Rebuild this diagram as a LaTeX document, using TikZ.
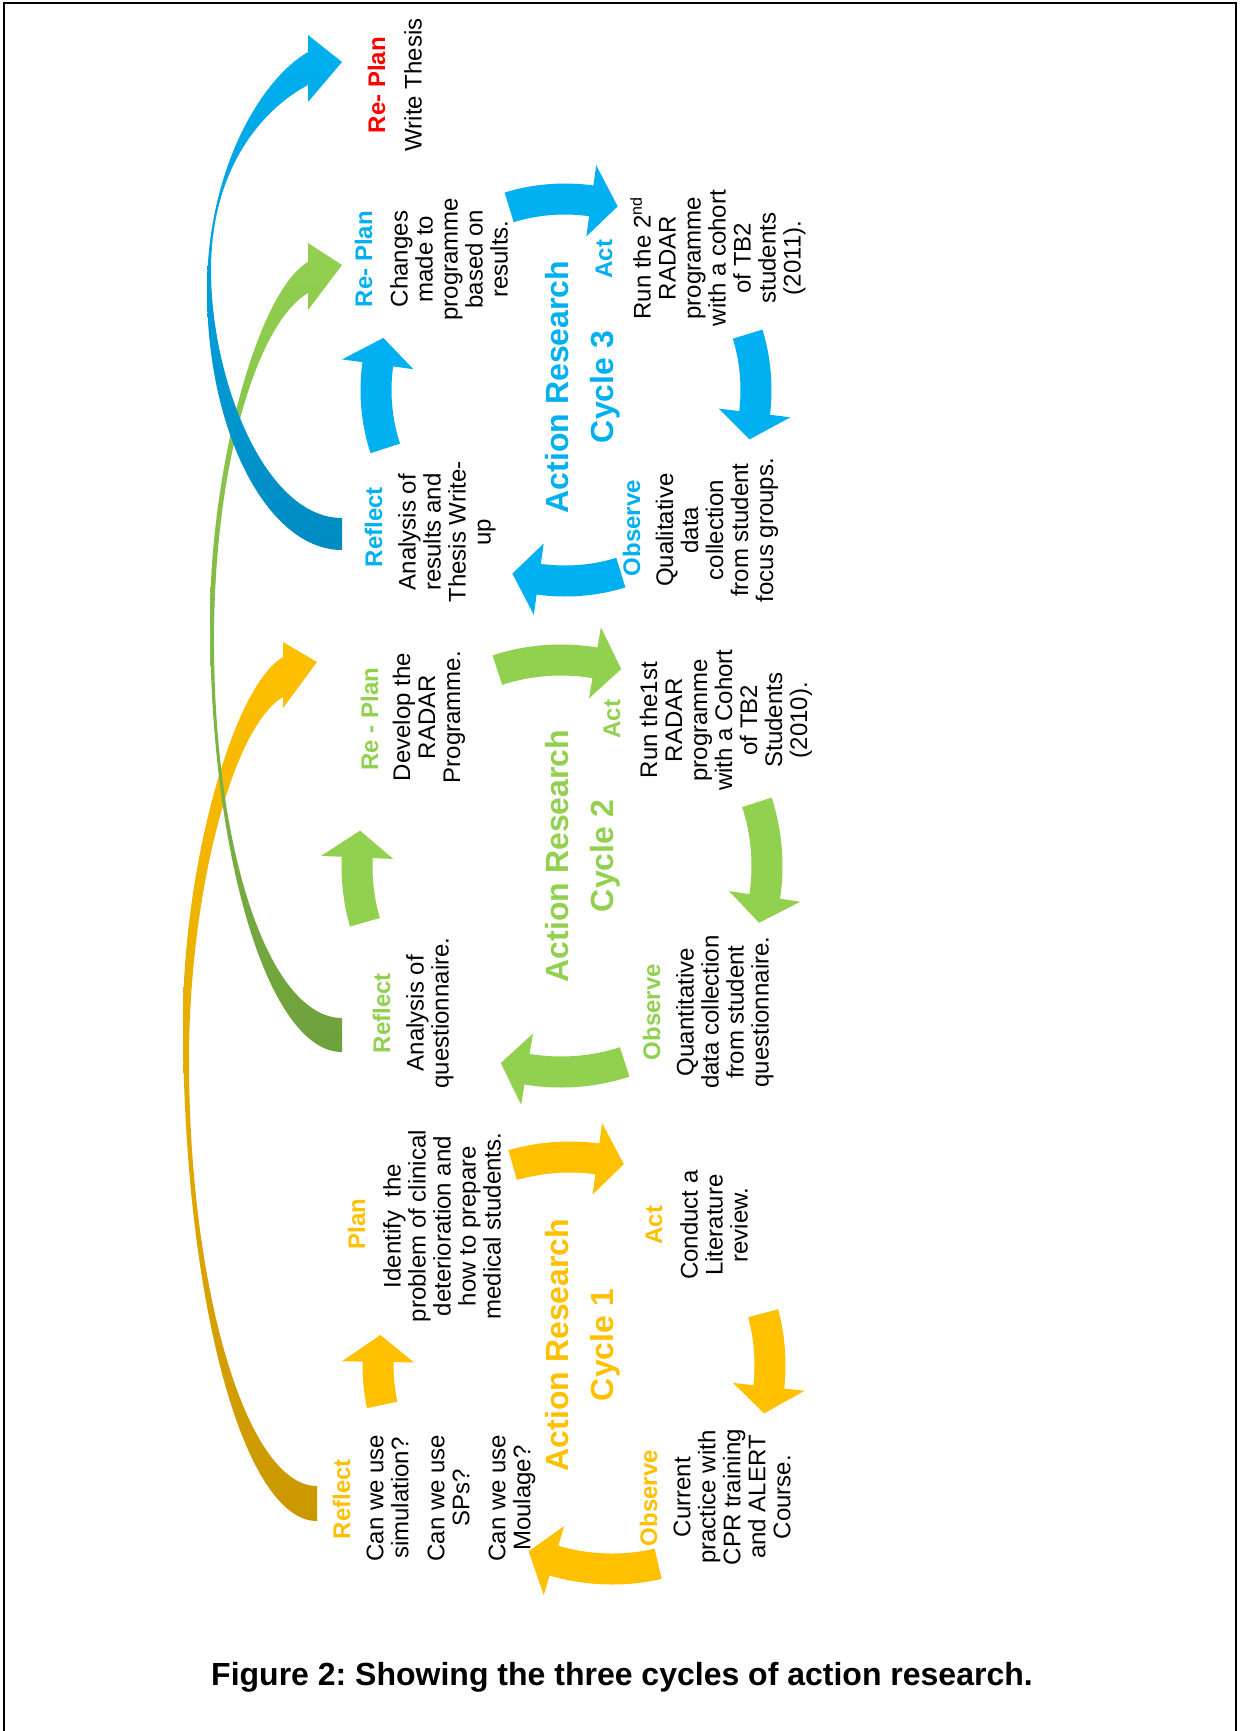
\documentclass[tikz,border=0pt]{standalone}
\usepackage{fontspec}
\setmainfont{Liberation Sans}
\usetikzlibrary{calc}
\frenchspacing

\definecolor{ybright}{HTML}{FFC000}
\definecolor{ydark}{HTML}{C99700}
\definecolor{gbright}{HTML}{92D050}
\definecolor{gdark}{HTML}{6FA13C}
\definecolor{bbright}{HTML}{00B0F0}
\definecolor{bdark}{HTML}{008BC2}
\definecolor{redlbl}{HTML}{FF0000}

% curved block arrow around a cycle centre:
% #1,#2 centre, #3 radius, #4 start angle, #5 end angle (tip), #6 colour
\newcommand{\cyclearrow}[6]{%
  \pgfmathsetmacro{\caH}{#5-27/(#3)*57.29578}%
  \pgfmathsetmacro{\caRo}{#3+15.5}%
  \pgfmathsetmacro{\caRi}{#3-15.5}%
  \pgfmathsetmacro{\caHo}{#3+36}%
  \pgfmathsetmacro{\caHi}{#3-36}%
  \fill[#6] ($(#1,#2)+(#4:\caRo)$) arc[start angle=#4, end angle=\caH, radius=\caRo]
    -- ($(#1,#2)+(\caH:\caHo)$) -- ($(#1,#2)+(#5:#3)$) -- ($(#1,#2)+(\caH:\caHi)$)
    -- ($(#1,#2)+(\caH:\caRi)$) arc[start angle=\caH, end angle=#4, radius=\caRi] -- cycle;
}

\tikzset{
  txt/.style={rotate=90, align=center, inner sep=0pt, font=\fontsize{12}{12.5}\selectfont},
  lbl/.style={rotate=90, inner sep=0pt, anchor=base, font=\fontsize{12}{12.5}\selectfont\bfseries},
  ttl/.style={rotate=90, inner sep=0pt, anchor=base, font=\fontsize{16}{19}\selectfont\bfseries},
  sweep/.style={shade, middle color=#1bright, top color=#1bright, bottom color=#1dark},
}

\begin{document}
\begin{tikzpicture}[x=0.5pt,y=-0.5pt]
\useasboundingbox (0,0) rectangle (1240,1731);
\fill[white] (0,0) rectangle (1240,1731);

% frame
\draw[line width=1pt] (4,1731) -- (4,3) -- (1236,3) -- (1236,1731);

% ---- cycle 3 (blue)
\cyclearrow{565}{390}{191}{253}{286}{bbright}
\cyclearrow{565}{390}{191}{-17}{15}{bbright}
\cyclearrow{565}{390}{191}{73}{106}{bbright}
\cyclearrow{565}{390}{189}{162}{196}{bbright}

% ---- cycle 2 (green)
\cyclearrow{561}{866}{206}{252}{287}{gbright}
\cyclearrow{561}{866}{206}{-18}{16}{gbright}
\cyclearrow{561}{866}{206}{72}{107}{gbright}
\cyclearrow{561}{866}{204}{164}{190}{gbright}

% ---- cycle 1 (yellow)
\cyclearrow{570}{1365}{208}{254}{285}{ybright}
\cyclearrow{570}{1365}{200}{-15}{14}{ybright}
\cyclearrow{612}{1364}{205}{77}{114}{ybright}
\cyclearrow{570}{1365}{192}{168}{189}{ybright}

% ---- sweeping arrows linking the cycles
\path[sweep=y]
  (317,1521) .. controls (243,1521) and (183,1297) .. (183,1020)
  .. controls (183,870) and (232,687) .. (283,657)
  -- (283,642) -- (317,662) -- (283,708) -- (283,697)
  .. controls (232,727) and (189,895) .. (189,1060)
  .. controls (189,1290) and (247,1486) .. (317,1486) -- cycle;

\path[sweep=g]
  (342,1052) .. controls (269,1052) and (210,858) .. (210,620)
  .. controls (210,470) and (257,292) .. (308,262)
  -- (308,243) -- (342,265) -- (308,310) -- (308,293)
  .. controls (257,323) and (214,465) .. (214,640)
  .. controls (214,860) and (272,1018) .. (342,1018) -- cycle;

\path[sweep=b]
  (342,550) .. controls (268,550) and (207,433) .. (207,290)
  .. controls (207,170) and (261,79) .. (308,52)
  -- (308,35) -- (342,62) -- (308,102) -- (308,85)
  .. controls (261,110) and (211,170) .. (211,270)
  .. controls (211,380) and (265,518) .. (342,518) -- cycle;

% ---- texts, cycle 1
\node[lbl, text=ybright] (c1reflect) at (350,1499) {Reflect};
\node[txt] (c1reflectt) at (451,1498) {Can we use\\simulation?\\[5.5pt]Can we use\\SPs?\\[5.5pt]Can we use\\Moulage?};
\node[lbl, text=ybright] (c1plan) at (365,1224) {Plan};
\node[txt] (c1plant) at (442,1226) {Identify\ \ the\\problem of clinical\\deterioration and\\how to prepare\\medical students.};
\node[ttl, text=ybright] (c1title) at (568,1345) {Action Research};
\node[ttl, text=ybright] (c1cycle) at (613,1345) {Cycle 1};
\node[lbl, text=ybright] (c1act) at (662,1225) {Act};
\node[txt] (c1actt) at (714,1225) {Conduct a\\Literature\\review.};
\node[lbl, text=ybright] (c1obs) at (657,1498) {Observe};
\node[txt] (c1obst) at (732,1497) {Current\\practice with\\CPR training\\and ALERT\\Course.};

% ---- texts, cycle 2
\node[lbl, text=gbright] (c2reflect) at (390,1013) {Reflect};
\node[txt] (c2reflectt) at (430,1013) {Analysis of\\questionnaire.};
\node[lbl, text=gbright] (c2plan) at (378,719) {Re - Plan};
\node[txt] (c2plant) at (429,717) {Develop the\\RADAR\\Programme.};
\node[ttl, text=gbright] (c2title) at (568,856) {Action Research};
\node[ttl, text=gbright] (c2cycle) at (613,856) {Cycle 2};
\node[lbl, text=gbright] (c2act) at (620,719) {Act};
\node[txt] (c2actt) at (726,720) {Run the1st\\RADAR\\programme\\with a Cohort\\of TB2\\Students\\(2010).};
\node[lbl, text=gbright] (c2obs) at (660,1012) {Observe};
\node[txt] (c2obst) at (725,1012) {Quantitative\\data collection\\from student\\questionnaire.};

% ---- texts, cycle 3
\node[lbl, text=bbright] (c3reflect) at (382,527) {Reflect};
\node[txt] (c3reflectt) at (447,532) {Analysis of\\results and\\Thesis Write-\\up};
\node[lbl, text=bbright] (c3plan) at (372,259) {Re- Plan};
\node[txt] (c3plant) at (449,259) {Changes\\made to\\programme\\based on\\results.};
\node[ttl, text=bbright] (c3title) at (568,387) {Action Research};
\node[ttl, text=bbright] (c3cycle) at (613,387) {Cycle 3};
\node[lbl, text=bbright] (c3act) at (612,259) {Act};
\node[txt] (c3actt) at (718,258) {Run the 2\textsuperscript{nd}\\RADAR\\programme\\with a cohort\\of TB2\\students\\(2011).};
\node[lbl, text=bbright] (c3obs) at (640,528) {Observe};
\node[txt] (c3obst) at (717,530) {Qualitative\\data\\collection\\from student\\focus groups.};

% ---- final step
\node[lbl, text=redlbl] (finplan) at (385,85) {Re- Plan};
\node[txt] (fint) at (413,85) {Write Thesis};

% ---- caption
\node[anchor=base, inner sep=0pt, font=\fontsize{16}{19}\selectfont\bfseries] (caption) at (622,1685)
  {Figure 2: Showing the three cycles of action research.};
\end{tikzpicture}
\end{document}
